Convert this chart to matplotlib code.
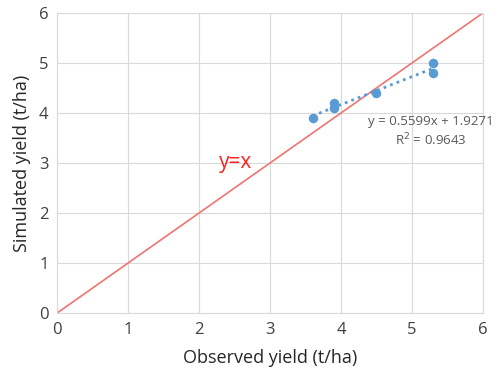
import matplotlib
matplotlib.use("Agg")
import matplotlib.pyplot as plt
import numpy as np

plt.rcParams['font.family'] = ['Open Sans', 'DejaVu Sans']

observed = [3.6, 3.9, 3.9, 4.5, 5.3, 5.3]
simulated = [3.9, 4.2, 4.1, 4.4, 5.0, 4.8]
ticks = [0, 1, 2, 3, 4, 5, 6]

fig = plt.figure(figsize=(4.99, 3.68), dpi=100)
ax = fig.add_axes([0.114, 0.149, 0.854, 0.816])

ax.set_xlim(0, 6)
ax.set_ylim(0, 6)
ax.set_xticks(ticks)
ax.set_yticks(ticks)
ax.grid(True, color='#D9D9D9', linewidth=0.8)
ax.set_axisbelow(True)
for s in ax.spines.values():
  s.set_color('#D9D9D9')
  s.set_linewidth(0.8)
ax.tick_params(length=0, labelsize=12, colors='#404040')
ax.tick_params(axis='x', pad=6)
ax.tick_params(axis='y', pad=6)

# 1:1 line
ax.plot([0, 6], [0, 6], color='#F07470', linewidth=1.2)

# linear trend
slope, intercept = np.polyfit(observed, simulated, 1)
xt = np.array([min(observed), max(observed)])
ax.plot(xt, slope * xt + intercept, linestyle=(0, (1, 1.5)), color='#5B9BD5', linewidth=2)

ax.scatter(observed, simulated, s=34, color='#5B9BD5', zorder=3)

ax.text(2.52, 3.02, 'y=x', color='#FF2020', fontsize=15, ha='center', va='center')
ax.text(5.27, 3.82, 'y = 0.5599x + 1.9271', color='#595959', fontsize=9.5, ha='center', va='center')
ax.text(5.27, 3.46, 'R$^2$ = 0.9643', color='#595959', fontsize=9.5, ha='center', va='center')

ax.set_xlabel('Observed yield (t/ha)', fontsize=13, color='#262626', labelpad=8)
ax.set_ylabel('Simulated yield (t/ha)', fontsize=13, color='#262626', labelpad=6)

fig.savefig('out.png', dpi=100)
